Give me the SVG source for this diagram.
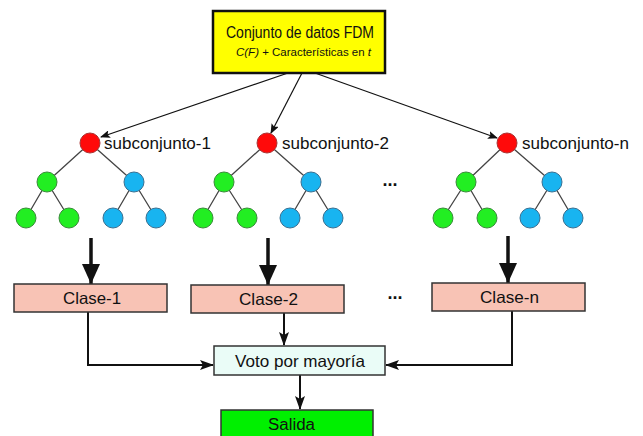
<svg xmlns="http://www.w3.org/2000/svg" width="643" height="436" viewBox="0 0 643 436">
<defs>
<style>
text{font-family:"Liberation Sans",Arial,sans-serif;fill:#111}
.box{stroke:#333;stroke-width:1.5}
.edge{stroke:#444;stroke-width:1.3;fill:none}
.r{fill:#ff0a0a;stroke:#a33;stroke-width:1}
.g{fill:#22ee22;stroke:#3a8a3a;stroke-width:1}
.b{fill:#18b4f0;stroke:#3a6f90;stroke-width:1}
.thin{stroke:#111;stroke-width:1.2;fill:none}
.conn{stroke:#111;stroke-width:2;fill:none}
.thick{stroke:#111;stroke-width:3.5;fill:none}
.lbl{font-size:16.5px}
.sub{font-size:16.5px}
.dots{font-size:18px;font-weight:bold}
</style>
<marker id="ah" markerWidth="10" markerHeight="8" refX="9" refY="4" orient="auto" markerUnits="userSpaceOnUse">
<path d="M0,0 L10,4 L0,8 L2,4 Z" fill="#111"/>
</marker>
<marker id="am" markerWidth="14" markerHeight="10" refX="13" refY="5" orient="auto" markerUnits="userSpaceOnUse">
<path d="M0,0 L14,5 L0,10 L3,5 Z" fill="#111"/>
</marker>
<marker id="ab" markerWidth="20" markerHeight="18" refX="20" refY="9" orient="auto" markerUnits="userSpaceOnUse">
<path d="M0,0 L20,9 L0,18 Z" fill="#111"/>
</marker>
</defs>
<rect width="643" height="436" fill="#fff"/>

<g id="connectors">
<line class="thin" x1="288" y1="73" x2="101" y2="137" marker-end="url(#ah)"/>
<line class="thin" x1="302" y1="73" x2="271" y2="133" marker-end="url(#ah)"/>
<line class="thin" x1="315" y1="73" x2="497" y2="138" marker-end="url(#ah)"/>
<line class="thick" x1="91" y1="238" x2="91" y2="284" marker-end="url(#ab)"/>
<line class="thick" x1="268" y1="238" x2="268" y2="285" marker-end="url(#ab)"/>
<line class="thick" x1="508" y1="236" x2="508" y2="283" marker-end="url(#ab)"/>
<polyline class="conn" points="88,312 88,365 213,365" marker-end="url(#am)"/>
<polyline class="conn" points="512,311 512,365 386,365" marker-end="url(#am)"/>
<line class="conn" x1="284" y1="313" x2="284" y2="345" marker-end="url(#am)"/>
<line class="conn" x1="300" y1="375" x2="300" y2="409" marker-end="url(#am)"/>
</g>

<g id="dataset">
<rect x="213" y="11" width="172" height="62" fill="#ffff00" stroke="#111" stroke-width="2.5"/>
<text x="226" y="38" font-size="16" textLength="148" lengthAdjust="spacingAndGlyphs">Conjunto de datos FDM</text>
<text x="236" y="56" font-size="11.5" textLength="135" lengthAdjust="spacingAndGlyphs"><tspan font-style="italic">C(F)</tspan> + Características en <tspan font-style="italic">t</tspan></text>
</g>

<g id="tree-1">
<path class="edge" d="M90,143 L47,182 M90,143 L134,182 M47,182 L26,218 M47,182 L69,218 M134,182 L113,218 M134,182 L156,218"/>
<circle class="r" cx="90" cy="143" r="10"/>
<circle class="g" cx="47" cy="182" r="10"/>
<circle class="b" cx="134" cy="182" r="10"/>
<circle class="g" cx="26" cy="218" r="10"/>
<circle class="g" cx="69" cy="218" r="10"/>
<circle class="b" cx="113" cy="218" r="10"/>
<circle class="b" cx="156" cy="218" r="10"/>
<text class="sub" x="104" y="149" textLength="107" lengthAdjust="spacingAndGlyphs">subconjunto-1</text>
</g>

<g id="tree-2">
<path class="edge" d="M267,143 L224,182 M267,143 L311,182 M224,182 L203,218 M224,182 L247,218 M311,182 L290,218 M311,182 L333,218"/>
<circle class="r" cx="267" cy="143" r="10"/>
<circle class="g" cx="224" cy="182" r="10"/>
<circle class="b" cx="311" cy="182" r="10"/>
<circle class="g" cx="203" cy="218" r="10"/>
<circle class="g" cx="247" cy="218" r="10"/>
<circle class="b" cx="290" cy="218" r="10"/>
<circle class="b" cx="333" cy="218" r="10"/>
<text class="sub" x="282" y="149" textLength="107" lengthAdjust="spacingAndGlyphs">subconjunto-2</text>
</g>

<g id="tree-n">
<path class="edge" d="M507,143 L466,182 M507,143 L552,182 M466,182 L443,218 M466,182 L487,218 M552,182 L530,218 M552,182 L573,218"/>
<circle class="r" cx="507" cy="143" r="10"/>
<circle class="g" cx="466" cy="182" r="10"/>
<circle class="b" cx="552" cy="182" r="10"/>
<circle class="g" cx="443" cy="218" r="10"/>
<circle class="g" cx="487" cy="218" r="10"/>
<circle class="b" cx="530" cy="218" r="10"/>
<circle class="b" cx="573" cy="218" r="10"/>
<text class="sub" x="522" y="149" textLength="107" lengthAdjust="spacingAndGlyphs">subconjunto-n</text>
</g>

<g id="dots">
<text class="dots" x="390" y="186" text-anchor="middle">...</text>
<text class="dots" x="395" y="299" text-anchor="middle">...</text>
</g>

<g id="clase-1">
<rect class="box" x="14" y="284" width="153" height="28" fill="#f8c3b5"/>
<text class="lbl" x="63" y="304" textLength="58" lengthAdjust="spacingAndGlyphs">Clase-1</text>
</g>
<g id="clase-2">
<rect class="box" x="191" y="285" width="153" height="28" fill="#f8c3b5"/>
<text class="lbl" x="239" y="305" textLength="59" lengthAdjust="spacingAndGlyphs">Clase-2</text>
</g>
<g id="clase-n">
<rect class="box" x="432" y="283" width="153" height="28" fill="#f8c3b5"/>
<text class="lbl" x="480" y="303" textLength="59" lengthAdjust="spacingAndGlyphs">Clase-n</text>
</g>
<g id="voto">
<rect class="box" x="214" y="346" width="171" height="29" fill="#eafcf7"/>
<text class="lbl" x="235" y="367" textLength="130" lengthAdjust="spacingAndGlyphs">Voto por mayoría</text>
</g>
<g id="salida">
<rect x="221" y="410" width="152" height="30" fill="#00f000" stroke="#333" stroke-width="1.5"/>
<text x="268" y="430" font-size="16" textLength="47" lengthAdjust="spacingAndGlyphs" fill="#1a3a1a">Salida</text>
</g>
</svg>
